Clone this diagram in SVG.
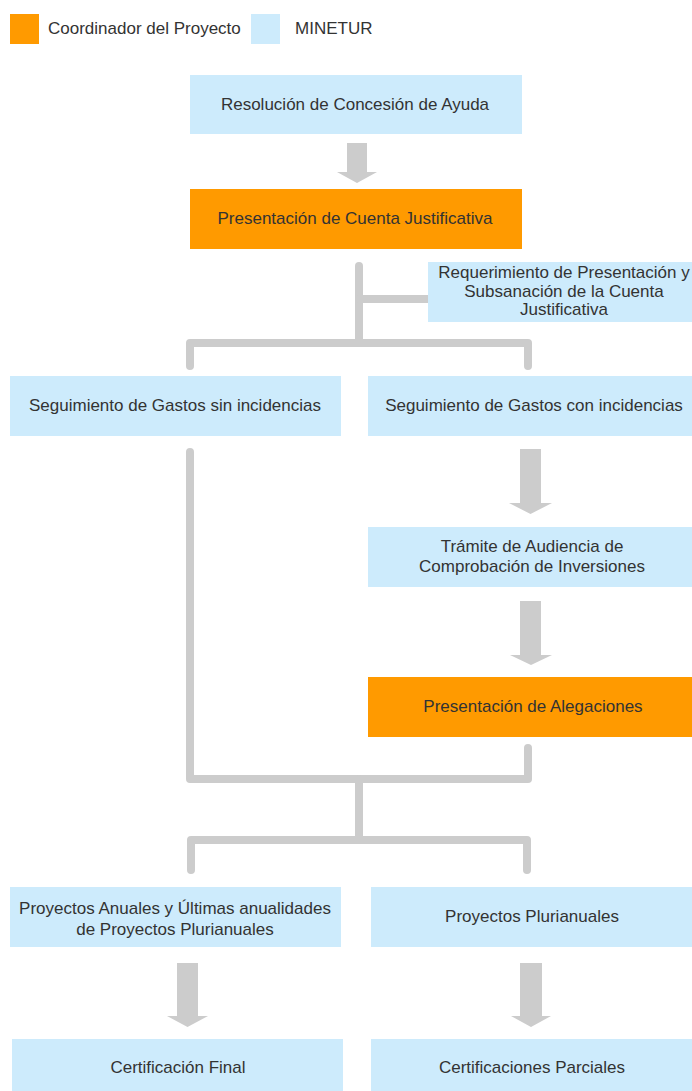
<svg xmlns="http://www.w3.org/2000/svg" width="692" height="1091" viewBox="0 0 692 1091">
<style>
.bg{fill:#ffffff}
.blue{fill:#CDEBFC}
.orange{fill:#FF9A00}
.t{font-family:"Liberation Sans",Arial,sans-serif;font-size:17px;fill:#333333;text-anchor:middle}
.tl{font-family:"Liberation Sans",Arial,sans-serif;font-size:17px;fill:#333333}
.line{fill:none;stroke:#CCCCCC;stroke-width:8;stroke-linecap:round;stroke-linejoin:round}
.arrow{fill:#CCCCCC}
</style>
<rect class="bg" x="0" y="0" width="692" height="1091"/>
<g id="legend">
  <rect class="orange" x="10" y="14" width="29" height="30"/>
  <text class="tl" x="48" y="34">Coordinador del Proyecto</text>
  <rect class="blue" x="251" y="14" width="29" height="30"/>
  <text class="tl" x="295" y="34">MINETUR</text>
</g>
<g id="connectors">
  <polygon class="arrow" points="347,143 367,143 367,172 377,172 357,183 337,172 347,172"/>
  <path class="line" d="M359,266 V343"/>
  <path class="line" d="M359,299 H428"/>
  <path class="line" d="M190,366 V343 H528 V366"/>
  <polygon class="arrow" points="520,449 541,449 541,503 552,503 530.5,514 509,503 520,503"/>
  <polygon class="arrow" points="520,601 541,601 541,655 552,655 531,665 510,655 520,655"/>
  <path class="line" d="M190,452 V779 H528 V748"/>
  <path class="line" d="M359,779 V840"/>
  <path class="line" d="M191,870 V840 H527 V870"/>
  <polygon class="arrow" points="177,963 198,963 198,1016 208,1016 187.5,1027 167,1016 177,1016"/>
  <polygon class="arrow" points="520,963 542,963 542,1016 551,1016 531,1027 511,1016 520,1016"/>
</g>
<g id="n_resolucion">
  <rect class="blue" x="190" y="75" width="332" height="59"/>
  <text class="t" x="355" y="110">Resolución de Concesión de Ayuda</text>
</g>
<g id="n_presentacion_cuenta">
  <rect class="orange" x="190" y="189" width="332" height="60"/>
  <text class="t" x="355" y="224">Presentación de Cuenta Justificativa</text>
</g>
<g id="n_requerimiento">
  <rect class="blue" x="428" y="262" width="264" height="60"/>
  <text class="t" x="564" y="278">Requerimiento de Presentación y</text>
  <text class="t" x="564" y="297">Subsanación de la Cuenta</text>
  <text class="t" x="564" y="315">Justificativa</text>
</g>
<g id="n_seg_sin">
  <rect class="blue" x="10" y="376" width="331" height="60"/>
  <text class="t" x="175" y="411">Seguimiento de Gastos sin incidencias</text>
</g>
<g id="n_seg_con">
  <rect class="blue" x="368" y="376" width="324" height="60"/>
  <text class="t" x="534" y="411">Seguimiento de Gastos con incidencias</text>
</g>
<g id="n_tramite">
  <rect class="blue" x="368" y="527" width="324" height="60"/>
  <text class="t" x="532" y="552">Trámite de Audiencia de</text>
  <text class="t" x="532" y="572">Comprobación de Inversiones</text>
</g>
<g id="n_alegaciones">
  <rect class="orange" x="368" y="677" width="324" height="60"/>
  <text class="t" x="533" y="712">Presentación de Alegaciones</text>
</g>
<g id="n_anuales">
  <rect class="blue" x="10" y="887" width="331" height="60"/>
  <text class="t" x="175" y="914">Proyectos Anuales y Últimas anualidades</text>
  <text class="t" x="175" y="935">de Proyectos Plurianuales</text>
</g>
<g id="n_plurianuales">
  <rect class="blue" x="371" y="887" width="321" height="60"/>
  <text class="t" x="532" y="922">Proyectos Plurianuales</text>
</g>
<g id="n_cert_final">
  <rect class="blue" x="12" y="1039" width="331" height="52"/>
  <text class="t" x="178" y="1073">Certificación Final</text>
</g>
<g id="n_cert_parciales">
  <rect class="blue" x="371" y="1039" width="321" height="52"/>
  <text class="t" x="532" y="1073">Certificaciones Parciales</text>
</g>
</svg>
